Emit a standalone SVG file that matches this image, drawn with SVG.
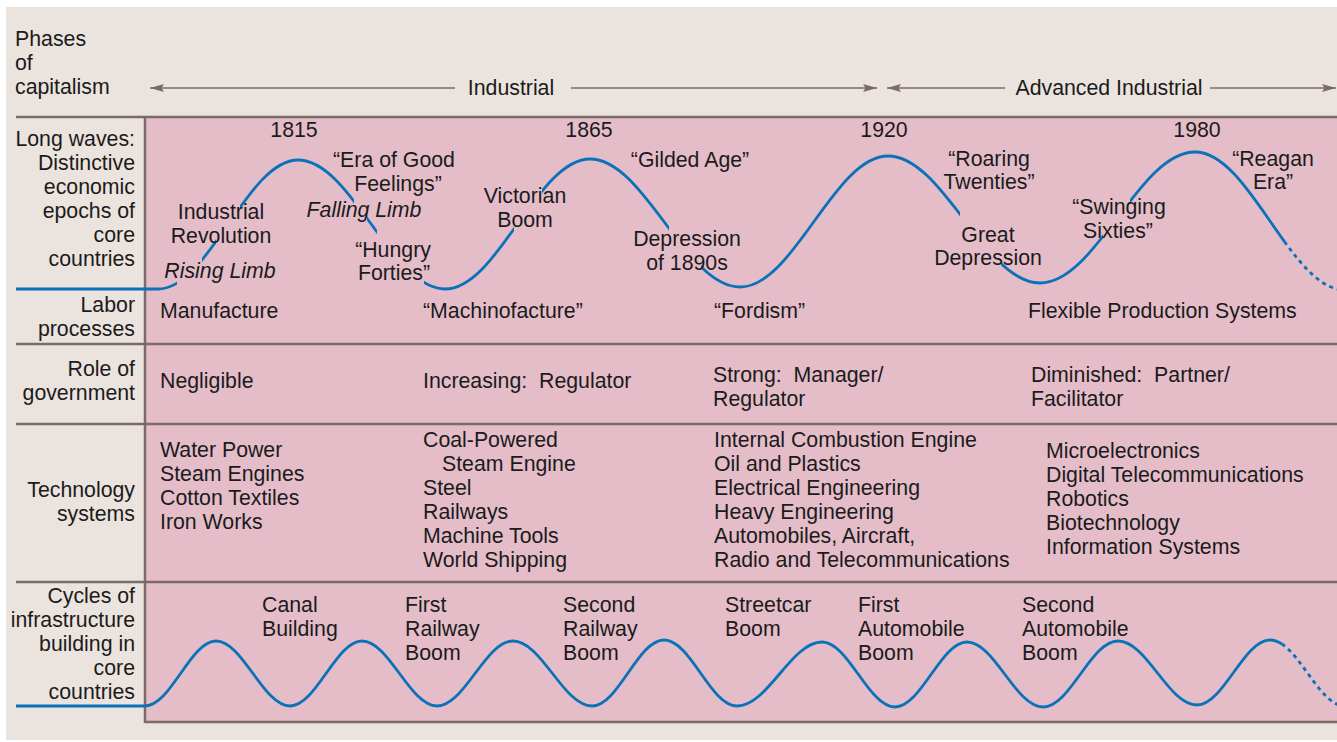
<svg xmlns="http://www.w3.org/2000/svg" width="1337" height="742" viewBox="0 0 1337 742">
<defs>
<style>
text{font-family:"Liberation Sans",Arial,Helvetica,sans-serif;font-size:21.3px;fill:#1b1b1b}
.r{text-anchor:end}
.m{text-anchor:middle}
.i{font-style:italic}
.rule{stroke:#7b6b66;stroke-width:2.5;fill:none}
.arr{stroke:#7b6b66;stroke-width:1.6;fill:none;marker-end:url(#ah)}
.wave{stroke:#0a72b8;stroke-width:2.8;fill:none}
.dash{stroke-dasharray:4 4}
</style>
<marker id="ah" markerUnits="userSpaceOnUse" markerWidth="15" markerHeight="9" refX="14" refY="4.5" orient="auto"><path d="M0,0.5 L14,4.5 L0,8.5 L2.5,4.5 Z" fill="#7b6b66"/></marker>
<mask id="gaps" maskUnits="userSpaceOnUse" x="0" y="0" width="1337" height="742">
<rect x="0" y="0" width="1337" height="742" fill="#fff"/>
<rect x="177" y="250" width="25" height="45" fill="#000"/>
<rect x="216" y="190" width="24" height="70" fill="#000"/>
<rect x="354" y="190" width="13" height="45" fill="#000"/>
<rect x="377" y="225" width="47" height="70" fill="#000"/>
<rect x="514" y="175" width="28" height="70" fill="#000"/>
<rect x="669" y="215" width="32" height="65" fill="#000"/>
<rect x="960" y="210" width="41" height="70" fill="#000"/>
<rect x="1103" y="185" width="27" height="65" fill="#000"/>
</mask>
</defs>

<rect x="0" y="0" width="1337" height="742" fill="#ffffff"/>
<rect x="6" y="7" width="1331" height="733" fill="#ebe3de"/>
<rect x="145" y="117" width="1192" height="605" fill="#e4bdc9"/>

<g id="grid">
<line class="rule" x1="16" y1="117" x2="1337" y2="117"/>
<line class="rule" x1="16" y1="344" x2="1337" y2="344"/>
<line class="rule" x1="16" y1="424" x2="1337" y2="424"/>
<line class="rule" x1="16" y1="582" x2="1337" y2="582"/>
<line class="rule" x1="145" y1="722" x2="1337" y2="722"/>
<line class="rule" x1="145" y1="116" x2="145" y2="723"/>
</g>

<g id="phases">
<text x="15" y="46">Phases</text>
<text x="15" y="70">of</text>
<text x="15" y="94">capitalism</text>
<text class="m" x="511" y="95">Industrial</text>
<text class="m" x="1109" y="95">Advanced Industrial</text>
</g>

<g id="connectors">
<line class="arr" x1="455" y1="88" x2="150" y2="88"/>
<line class="arr" x1="571" y1="88" x2="877" y2="88"/>
<line class="arr" x1="1005" y1="88" x2="887" y2="88"/>
<line class="arr" x1="1210" y1="88" x2="1336" y2="88"/>
</g>

<g id="row-labels">
<text class="r" x="135" y="146">Long waves:</text>
<text class="r" x="135" y="170">Distinctive</text>
<text class="r" x="135" y="194">economic</text>
<text class="r" x="135" y="218">epochs of</text>
<text class="r" x="135" y="242">core</text>
<text class="r" x="135" y="266">countries</text>
<text class="r" x="135" y="312">Labor</text>
<text class="r" x="135" y="336">processes</text>
<text class="r" x="135" y="376">Role of</text>
<text class="r" x="135" y="400">government</text>
<text class="r" x="135" y="497">Technology</text>
<text class="r" x="135" y="521">systems</text>
<text class="r" x="135" y="603">Cycles of</text>
<text class="r" x="135" y="627">infrastructure</text>
<text class="r" x="135" y="651">building in</text>
<text class="r" x="135" y="675">core</text>
<text class="r" x="135" y="699">countries</text>
</g>

<g id="long-wave-curve">
<path class="wave" mask="url(#gaps)" d="M16,289 L158,289 C209,289 247,160 298,160 C351.5,160 391.5,289 445,289 C497.8,289 537.2,159 590,159 C644.6,159 685.4,287 740,287 C793.9,287 834.1,156 888,156 C943.3,156 984.7,283 1040,283 C1096.4,283 1138.6,152 1195,152 C1227.76,152 1255.55,201.68 1284.34,241.42"/>
<path class="wave dash" d="M1284.34,241.42 C1303.53,267.92 1323.16,290 1345,290"/>
</g>

<g id="long-wave-labels">
<text class="m" x="294" y="137">1815</text>
<text class="m" x="589" y="137">1865</text>
<text class="m" x="884" y="137">1920</text>
<text class="m" x="1197" y="137">1980</text>
<text class="m" x="221" y="219">Industrial</text>
<text class="m" x="221" y="243">Revolution</text>
<text class="m i" x="220" y="278">Rising Limb</text>
<text class="m" x="394" y="167">“Era of Good</text>
<text class="m" x="398" y="191">Feelings”</text>
<text class="m i" x="364" y="217">Falling Limb</text>
<text class="m" x="393" y="257">“Hungry</text>
<text class="m" x="394" y="280">Forties”</text>
<text class="m" x="525" y="203">Victorian</text>
<text class="m" x="525" y="227">Boom</text>
<text class="m" x="690" y="167">“Gilded Age”</text>
<text class="m" x="687" y="246">Depression</text>
<text class="m" x="687" y="270">of 1890s</text>
<text class="m" x="989" y="166">“Roaring</text>
<text class="m" x="989" y="189">Twenties”</text>
<text class="m" x="988" y="242">Great</text>
<text class="m" x="988" y="265">Depression</text>
<text class="m" x="1119" y="214">“Swinging</text>
<text class="m" x="1118" y="238">Sixties”</text>
<text class="m" x="1273" y="166">“Reagan</text>
<text class="m" x="1273" y="189">Era”</text>
</g>

<g id="labor-processes">
<text x="160" y="318">Manufacture</text>
<text x="423" y="318">“Machinofacture”</text>
<text x="714" y="318">“Fordism”</text>
<text x="1028" y="318">Flexible Production Systems</text>
</g>

<g id="role-of-government">
<text x="160" y="388">Negligible</text>
<text x="423" y="388">Increasing:&#160; Regulator</text>
<text x="713" y="382">Strong:&#160; Manager/</text>
<text x="713" y="406">Regulator</text>
<text x="1031" y="382">Diminished:&#160; Partner/</text>
<text x="1031" y="406">Facilitator</text>
</g>

<g id="technology-systems">
<text x="160" y="457">Water Power</text>
<text x="160" y="481">Steam Engines</text>
<text x="160" y="505">Cotton Textiles</text>
<text x="160" y="529">Iron Works</text>
<text x="423" y="447">Coal-Powered</text>
<text x="442" y="471">Steam Engine</text>
<text x="423" y="495">Steel</text>
<text x="423" y="519">Railways</text>
<text x="423" y="543">Machine Tools</text>
<text x="423" y="567">World Shipping</text>
<text x="714" y="447">Internal Combustion Engine</text>
<text x="714" y="471">Oil and Plastics</text>
<text x="714" y="495">Electrical Engineering</text>
<text x="714" y="519">Heavy Engineering</text>
<text x="714" y="543">Automobiles, Aircraft,</text>
<text x="714" y="567">Radio and Telecommunications</text>
<text x="1046" y="458">Microelectronics</text>
<text x="1046" y="482">Digital Telecommunications</text>
<text x="1046" y="506">Robotics</text>
<text x="1046" y="530">Biotechnology</text>
<text x="1046" y="554">Information Systems</text>
</g>

<g id="infrastructure-curve">
<path class="wave" d="M16,706 L145,706 C170.8,706 190.2,641 216,641 C242.9,641 263.1,706 290,706 C316.2,706 335.8,641 362,641 C389.3,641 409.7,706 437,706 C464.7,706 485.3,641 513,641 C541.8,641 563.2,706 592,706 C618.2,706 637.8,640 664,640 C690.6,640 710.4,706 737,706 C767.9,706 791.1,642 822,642 C848.6,642 868.4,707 895,707 C921.2,707 940.8,642 967,642 C994.7,642 1015.3,707 1043,707 C1070.3,707 1090.7,641 1118,641 C1146.8,641 1168.2,705 1197,705 C1223.6,705 1243.4,640 1270,640 C1274.1,640 1278.04,641.49 1281.87,644.01"/>
<path class="wave dash" d="M1281.87,644.01 C1303.58,658.32 1321.8,706 1345,706"/>
</g>

<g id="infrastructure-labels">
<text x="262" y="612">Canal</text>
<text x="262" y="636">Building</text>
<text x="405" y="612">First</text>
<text x="405" y="636">Railway</text>
<text x="405" y="660">Boom</text>
<text x="563" y="612">Second</text>
<text x="563" y="636">Railway</text>
<text x="563" y="660">Boom</text>
<text x="725" y="612">Streetcar</text>
<text x="725" y="636">Boom</text>
<text x="858" y="612">First</text>
<text x="858" y="636">Automobile</text>
<text x="858" y="660">Boom</text>
<text x="1022" y="612">Second</text>
<text x="1022" y="636">Automobile</text>
<text x="1022" y="660">Boom</text>
</g>
</svg>
